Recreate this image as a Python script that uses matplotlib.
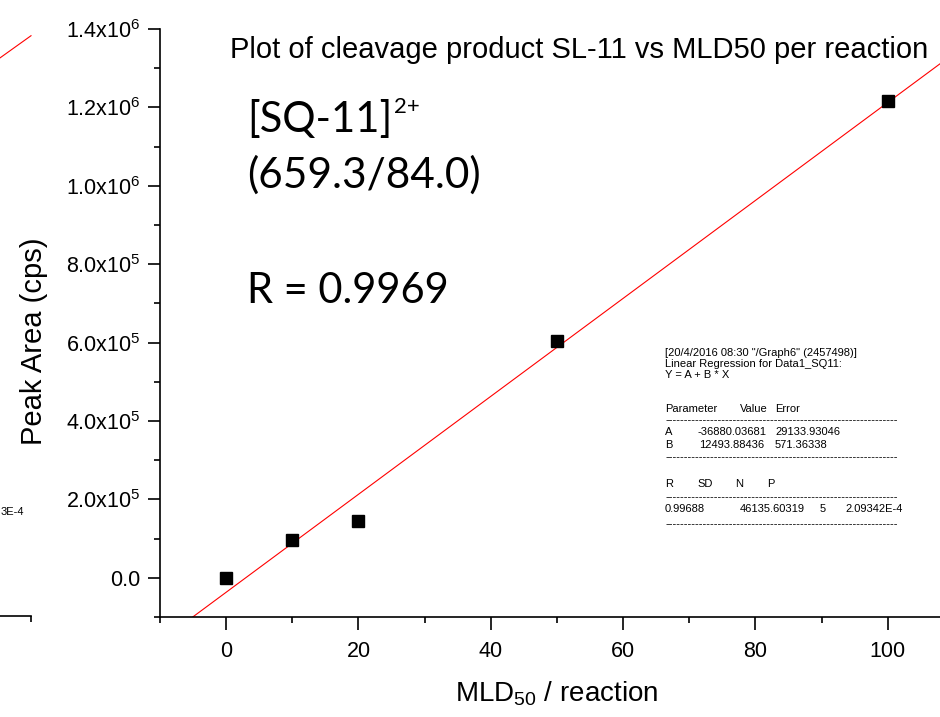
import numpy as np
import matplotlib
matplotlib.use("Agg")
import matplotlib.pyplot as plt
from matplotlib.ticker import MultipleLocator, FixedLocator, FixedFormatter

plt.rcParams['font.family'] = 'Liberation Sans'
plt.rcParams['mathtext.fontset'] = 'custom'
plt.rcParams['mathtext.rm'] = 'Liberation Sans'
plt.rcParams['mathtext.it'] = 'Liberation Sans:italic'
plt.rcParams['mathtext.bf'] = 'Liberation Sans:bold'

# ---------------- data ----------------
mld_per_reaction = [0, 10, 20, 50, 100]
peak_area = [0, 96000, 145000, 604000, 1216000]

fit_A = -36880.03681
fit_B = 12493.88436
fit_x_range = [-10, 110]

x_ticks = [0, 20, 40, 60, 80, 100]
y_ticks = [0, 2e5, 4e5, 6e5, 8e5, 1.0e6, 1.2e6, 1.4e6]
y_tick_labels = ['0.0', '2.0x10$^{5}$', '4.0x10$^{5}$', '6.0x10$^{5}$',
                 '8.0x10$^{5}$', '1.0x10$^{6}$', '1.2x10$^{6}$', '1.4x10$^{6}$']

title_text = "Plot of cleavage product SL-11 vs MLD50 per reaction"

# neighbouring (cropped) panel fragment on the left
prev_fit_x = [0, 1]
prev_fit_y = [0.906, 0.942]

# ---------------- figure ----------------
W, H = 940, 717
fig = plt.figure(figsize=(W / 100, H / 100), dpi=100)


def fx(px):
    return px / W


def fy(py):
    return 1 - py / H


ax = fig.add_axes([fx(160), fy(617), fx(940) - fx(160), fy(29) - fy(617)])

fx_arr = np.array(fit_x_range, dtype=float)
ax.plot(fx_arr, fit_A + fit_B * fx_arr, color='#ff0000', lw=0.8, zorder=2)
ax.plot(mld_per_reaction, peak_area, linestyle='none', marker='s',
        markersize=8, color='black', zorder=3)

ax.set_xlim(-10, 107.9)
ax.set_ylim(-1e5, 1.4e6)

ax.xaxis.set_major_locator(FixedLocator(x_ticks))
ax.xaxis.set_minor_locator(MultipleLocator(10))
ax.yaxis.set_major_locator(FixedLocator(y_ticks))
ax.yaxis.set_major_formatter(FixedFormatter(y_tick_labels))
ax.yaxis.set_minor_locator(MultipleLocator(1e5))

for s in ['top', 'right']:
    ax.spines[s].set_visible(False)
for s in ['left', 'bottom']:
    ax.spines[s].set_linewidth(1.2)

ax.tick_params(which='major', direction='out', length=9, width=1.2,
               labelsize=15.5, pad=5)
ax.tick_params(axis='x', which='major', pad=8)
ax.tick_params(which='minor', direction='out', length=4.5, width=1.2)

ax.set_xlabel('MLD$_{50}$ / reaction', fontsize=20)
ax.xaxis.set_label_coords(0.508, -0.106)
ax.set_ylabel('Peak Area (cps)', fontsize=21)
ax.yaxis.set_label_coords(-0.143, 0.469)

# title
fig.text(fx(230), fy(58), title_text, fontsize=21, ha='left', va='baseline')

# large annotation text
big_font = 'Lato'
t1 = fig.text(fx(247), fy(132), '[SQ-11]', fontsize=30, family=big_font,
              ha='left', va='baseline')
fig.text(fx(247), fy(188), '(659.3/84.0)', fontsize=30.5, family=big_font,
         ha='left', va='baseline')
fig.text(fx(247), fy(303), 'R = 0.9969', fontsize=30, family=big_font,
         ha='left', va='baseline')
fig.canvas.draw()
bb = t1.get_window_extent()
fig.text((bb.x1 + 2) / W, fy(113), '2+', fontsize=16, family=big_font,
         ha='left', va='baseline')

# regression report box
fs_box = 8
dash_line = '-' * 62


def btxt(px, py, s):
    fig.text(fx(px), fy(py), s, fontsize=fs_box, ha='left', va='center')


btxt(665, 353, '[20/4/2016 08:30 "/Graph6" (2457498)]')
btxt(665, 364, 'Linear Regression for Data1_SQ11:')
btxt(665, 375, 'Y = A + B * X')
btxt(665, 409, 'Parameter')
btxt(740, 409, 'Value')
btxt(775, 409, 'Error')
btxt(665, 420, dash_line)
btxt(665, 432, 'A')
btxt(697, 432, '-36880.03681')
btxt(775, 432, '29133.93046')
btxt(665, 445, 'B')
btxt(699, 445, '12493.88436')
btxt(775, 445, '571.36338')
btxt(665, 457, dash_line)
btxt(665, 484, 'R')
btxt(697, 484, 'SD')
btxt(735, 484, 'N')
btxt(767, 484, 'P')
btxt(665, 497, dash_line)
btxt(665, 509, '0.99688')
btxt(740, 509, '46135.60319')
btxt(820, 509, '5')
btxt(845, 509, '2.09342E-4')
btxt(665, 524, dash_line)

# left cropped fragment of a neighbouring panel
ax0 = fig.add_axes([0, fy(616), fx(31), 1 - fy(616)])
ax0.set_facecolor('none')
ax0.plot(prev_fit_x, prev_fit_y, color='#ff0000', lw=0.8, clip_on=False)
ax0.set_xlim(0, 1)
ax0.set_ylim(0, 1)
for s in ['top', 'right', 'left']:
    ax0.spines[s].set_visible(False)
ax0.spines['bottom'].set_linewidth(1.2)
ax0.set_yticks([])
ax0.set_xticks([1])
ax0.set_xticklabels([])
ax0.tick_params(axis='x', direction='out', length=4, width=1.2)
fig.text(fx(1), fy(512), '3E-4', fontsize=fs_box, ha='left', va='center')

fig.savefig('out.png', dpi=100)
